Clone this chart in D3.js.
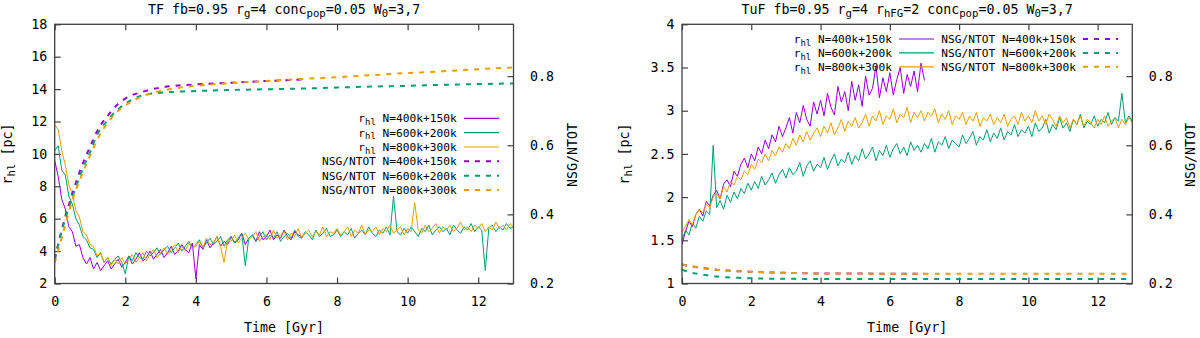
<!DOCTYPE html>
<html><head><meta charset="utf-8">
<script src="https://cdn.jsdelivr.net/npm/d3@7"></script>
<style>
html,body{margin:0;padding:0;background:#fff;}
svg{display:block;font-family:"DejaVu Sans Mono",monospace;}
</style></head>
<body><svg id="c" width="1200" height="338"></svg>
<script>
// ---------- data ----------
const timeGrid = d3.range(0, 131).map(i => i / 10); // 0.1 Gyr sampling grid
const nsgTimes = [0,0.25,0.5,0.75,1,1.25,1.5,1.75,2,2.5,3,3.5,4,5,6,7,8,9,10,11,12,13];

const xTicks = [0,2,4,6,8,10,12];
const yTicksTF = [2,4,6,8,10,12,14,16,18];
const yTicksTuF = [1,1.5,2,2.5,3,3.5,4];
const y2Ticks = [0.2,0.4,0.6,0.8];

const seriesNames = ["N=400k+150k","N=600k+200k","N=800k+300k"];
const seriesColors = ["#9400d3","#009e73","#e69f00"];

// TF panel: half-light radius [pc]
const rhlTF_400 = [9.6,8.6,7.2,6.6,5.5,5.2,4.3,4.4,3.6,3.2,
 3.6,2.9,3.3,2.8,3.1,3.4,2.9,3.2,3.5,3.0,
 3.3,3.7,3.2,3.5,3.9,3.4,3.6,4.0,3.5,3.8,
 4.1,3.6,3.9,4.3,3.8,4.0,4.4,4.1,3.9,4.5,
 2.3,4.4,4.1,4.7,4.2,4.5,4.9,4.3,4.6,4.4,
 4.9,4.5,4.7,5.1,4.4,4.8,5.0,4.6,5.2,4.7,
 4.9,5.3,4.7,5.0,4.8,5.3,4.9,4.7,5.2,5.0,
 4.9];
const rhlTF_600 = [10.2,10.5,9.0,8.7,7.4,6.9,6.0,5.6,4.9,4.7,
 4.2,4.1,3.6,3.9,3.3,3.6,3.2,3.5,3.7,3.3,
 2.6,3.7,3.4,3.9,3.6,3.5,4.0,3.7,3.9,4.2,
 3.8,4.1,4.3,3.9,4.2,4.5,4.0,4.3,4.6,4.2,
 4.4,4.7,4.2,4.5,4.8,4.4,4.6,4.9,4.3,4.7,
 4.9,4.5,4.8,5.1,3.1,4.8,5.0,4.6,4.9,5.2,
 4.7,5.0,4.8,5.2,4.6,4.9,5.1,4.8,5.3,4.9,
 4.8,5.2,5.0,4.7,5.3,4.9,5.1,5.4,4.9,5.0,
 5.3,4.9,5.2,5.0,5.4,4.8,5.1,5.3,5.0,5.5,
 5.1,4.9,5.3,5.1,5.5,5.0,7.4,5.2,5.0,5.4,
 5.1,5.5,5.2,4.9,5.4,5.2,5.6,5.0,5.3,5.5,
 5.2,5.4,5.0,5.6,5.3,5.1,5.5,5.3,5.7,5.2,
 5.5,5.3,2.8,5.4,5.6,5.2,5.5,5.3,5.7,5.4,
 5.5];
const rhlTF_800 = [11.8,11.5,10.2,9.3,8.1,7.5,6.5,6.1,5.2,5.0,
 4.4,4.3,3.7,3.9,3.3,3.6,3.1,3.5,3.2,3.6,
 3.2,3.5,3.8,3.3,3.6,3.9,3.4,3.8,4.1,3.6,
 3.9,4.2,3.8,4.1,4.4,3.9,4.3,4.0,4.5,4.2,
 4.3,4.6,4.2,4.8,4.4,4.5,4.9,4.3,3.3,4.7,
 4.6,5.0,4.5,4.8,5.1,4.7,4.9,5.2,4.6,4.9,
 5.0,4.7,5.3,4.8,5.0,5.2,4.7,5.1,4.9,5.4,
 4.8,5.1,5.3,4.9,5.2,5.0,5.5,4.9,5.2,5.1,
 5.4,5.0,5.2,5.5,4.9,5.3,5.1,5.6,5.0,5.3,
 5.2,5.5,5.0,5.4,5.2,5.6,5.1,5.3,5.5,5.0,
 5.4,5.2,7.0,5.3,5.1,5.6,5.2,5.4,5.7,5.1,
 5.5,5.3,5.6,5.2,5.4,5.8,5.3,5.5,5.2,5.6,
 5.4,5.7,5.2,5.5,5.3,5.8,5.4,5.6,5.3,5.7,
 5.5];
// TF panel: NSG/NTOT
const nsgTF_400 = [0.27,0.375,0.46,0.535,0.595,0.65,0.685,0.715,0.735,0.755,0.767,0.773,0.776,0.781,0.786,0.79];
const nsgTF_600 = [0.27,0.37,0.45,0.52,0.58,0.64,0.672,0.70,0.72,0.745,0.752,0.755,0.757,0.76,0.762,0.764,0.767,0.77,0.772,0.775,0.777,0.779];
const nsgTF_800 = [0.26,0.35,0.44,0.51,0.57,0.625,0.665,0.695,0.715,0.742,0.757,0.766,0.772,0.78,0.786,0.792,0.797,0.803,0.809,0.814,0.82,0.825];

// TuF panel: half-light radius [pc]
const rhlTuF_400 = [1.45,1.6,1.72,1.66,1.8,1.86,1.78,1.95,1.9,2.02,
 2.08,1.98,2.15,2.2,2.12,2.3,2.24,2.38,2.45,2.34,
 2.5,2.42,2.58,2.5,2.66,2.56,2.72,2.64,2.82,2.7,
 2.8,2.92,2.74,2.98,2.86,3.06,2.9,2.82,3.1,2.96,
 3.12,2.94,3.2,3.04,2.95,3.28,3.1,3.22,3.0,3.34,
 3.12,3.3,3.05,3.4,3.18,3.26,3.52,3.15,3.38,3.22,
 3.44,3.18,3.36,3.5,3.2,3.42,3.28,3.46,3.22,3.55,
 3.35];
const rhlTuF_600 = [1.5,1.62,1.56,1.7,1.64,1.78,1.72,1.84,1.8,2.6,
 1.88,1.96,1.86,2.02,1.94,2.06,1.98,2.1,2.04,2.16,
 2.08,2.18,2.1,2.24,2.14,2.2,2.28,2.16,2.26,2.32,
 2.22,2.34,2.26,2.3,2.4,2.24,2.36,2.42,2.3,2.38,
 2.34,2.46,2.32,2.42,2.5,2.36,2.44,2.4,2.52,2.38,
 2.48,2.42,2.56,2.44,2.5,2.58,2.42,2.54,2.48,2.6,
 2.46,2.56,2.62,2.5,2.58,2.48,2.64,2.54,2.6,2.52,
 2.62,2.56,2.68,2.52,2.64,2.6,2.7,2.56,2.66,2.62,
 2.58,2.72,2.62,2.68,2.76,2.6,2.7,2.66,2.78,2.64,
 2.74,2.68,2.8,2.66,2.76,2.72,2.84,2.7,2.78,2.74,
 2.82,2.7,2.86,2.76,2.8,2.9,2.74,2.84,2.78,2.92,
 2.8,2.86,2.76,2.9,2.84,2.96,2.8,2.88,2.84,2.94,
 2.82,2.9,2.86,2.98,2.84,2.92,2.88,3.2,2.86,2.94,
 2.88];
const rhlTuF_800 = [1.6,1.66,1.74,1.68,1.8,1.86,1.82,1.92,1.88,2.0,
 2.04,1.98,2.12,2.06,2.18,2.14,2.24,2.2,2.3,2.26,
 2.38,2.32,2.44,2.4,2.5,2.42,2.54,2.48,2.58,2.52,
 2.62,2.56,2.68,2.6,2.72,2.64,2.76,2.66,2.74,2.8,
 2.7,2.82,2.74,2.86,2.72,2.8,2.9,2.76,2.88,2.82,
 2.92,2.8,2.86,2.96,2.82,2.94,2.88,3.0,2.84,2.94,
 2.9,3.02,2.86,2.96,2.92,3.04,2.86,2.98,2.92,3.0,
 2.88,2.98,2.94,3.02,2.86,2.96,2.9,3.0,2.84,2.94,
 2.9,2.98,2.84,2.94,2.88,2.98,2.82,2.92,2.88,2.96,
 2.84,2.92,2.86,2.96,2.82,2.9,2.94,2.84,2.98,2.88,
 2.94,2.86,3.0,2.88,2.94,2.84,2.96,2.9,2.82,2.94,
 2.86,2.92,2.8,2.9,2.84,2.94,2.82,2.9,2.86,2.8,
 2.9,2.84,2.94,2.82,2.88,2.92,2.8,2.9,2.84,2.92,
 2.86];
// TuF panel: NSG/NTOT
const nsgTuF_400 = [0.255,0.25,0.246,0.243,0.24,0.238,0.236,0.235,0.234,0.232,0.231,0.230,0.229,0.229,0.228,0.228];
const nsgTuF_600 = [0.24,0.232,0.227,0.223,0.22,0.218,0.217,0.216,0.215,0.214,0.214,0.213,0.213,0.213,0.213,0.213,0.213,0.213,0.213,0.213,0.213,0.213];
const nsgTuF_800 = [0.255,0.25,0.246,0.243,0.24,0.238,0.236,0.235,0.234,0.232,0.231,0.230,0.229,0.229,0.228,0.228,0.228,0.228,0.228,0.228,0.228,0.228];

// ---------- drawing ----------
const svg = d3.select("#c");
const FONT = 13.3, LFONT = 11.2, FRAME = "#404040";

function rich(sel, parts, size) {
  const shift = size * 0.25;
  let cur = 0;
  parts.forEach(([txt, sub]) => {
    const want = sub ? shift : 0;
    const t = sel.append("tspan").text(txt).attr("dy", want - cur);
    if (sub) t.attr("font-size", size * 0.8);
    cur = want;
  });
}

function panel(cfg) {
  const x = d3.scaleLinear().domain([0, 13]).range([cfg.x0, cfg.x1]);
  const y = d3.scaleLinear().domain(cfg.yDomain).range([cfg.y1, cfg.y0]);
  const y2 = d3.scaleLinear().domain([0.2, 0.95]).range([cfg.y1, cfg.y0]);
  const g = svg.append("g");

  const clipId = "clip" + cfg.id;
  svg.append("clipPath").attr("id", clipId).append("rect")
    .attr("x", cfg.x0).attr("y", cfg.y0).attr("width", cfg.x1 - cfg.x0).attr("height", cfg.y1 - cfg.y0);

  const styleAxis = a => {
    a.select(".domain").remove();
    a.selectAll(".tick line").attr("stroke", FRAME).attr("stroke-width", 1.2);
    a.selectAll(".tick text").attr("fill", "#000").attr("font-size", FONT).attr("font-family", '"DejaVu Sans Mono",monospace');
  };
  g.append("g").attr("transform", `translate(0,${cfg.y1})`)
    .call(d3.axisBottom(x).tickValues(xTicks).tickFormat(d3.format("d")).tickSize(-6).tickPadding(13)).call(styleAxis);
  g.append("g").attr("transform", `translate(0,${cfg.y0})`)
    .call(d3.axisTop(x).tickValues(xTicks).tickFormat("").tickSize(-6)).call(styleAxis);
  g.append("g").attr("transform", `translate(${cfg.x0},0)`)
    .call(d3.axisLeft(y).tickValues(cfg.yTicks).tickFormat(cfg.yFmt).tickSize(-6).tickPadding(7.5)).call(styleAxis);
  g.append("g").attr("transform", `translate(${cfg.x1},0)`)
    .call(d3.axisRight(y2).tickValues(y2Ticks).tickFormat(d3.format(".1f")).tickSize(-6).tickPadding(16.5)).call(styleAxis);

  const data = g.append("g").attr("clip-path", `url(#${clipId})`);
  const line = d3.line().x(d => x(d[0])).y(d => y(d[1]));
  const line2 = d3.line().x(d => x(d[0])).y(d => y2(d[1])).curve(d3.curveMonotoneX);

  cfg.rhl.forEach((vals, i) => {
    data.append("path").datum(vals.map((v, k) => [timeGrid[k], v]))
      .attr("d", line).attr("fill", "none").attr("stroke", seriesColors[i]).attr("stroke-width", 1);
  });
  cfg.nsg.forEach((vals, i) => {
    data.append("path").datum(vals.map((v, k) => [nsgTimes[k], v]))
      .attr("d", line2).attr("fill", "none").attr("stroke", seriesColors[i])
      .attr("stroke-width", 2).attr("stroke-dasharray", "5,6");
  });

  g.append("rect").attr("x", cfg.x0).attr("y", cfg.y0).attr("width", cfg.x1 - cfg.x0).attr("height", cfg.y1 - cfg.y0)
    .attr("fill", "none").attr("stroke", FRAME).attr("stroke-width", 1.3);

  const title = g.append("text").attr("x", (cfg.x0 + cfg.x1) / 2).attr("y", 14)
    .attr("text-anchor", "middle").attr("font-size", FONT).attr("fill", "#000");
  rich(title, cfg.title, FONT);

  g.append("text").attr("x", (cfg.x0 + cfg.x1) / 2).attr("y", 332).attr("text-anchor", "middle")
    .attr("font-size", FONT).attr("fill", "#000").text("Time [Gyr]");
  const yl = g.append("text").attr("transform", `translate(${cfg.ylabelX},154) rotate(-90)`)
    .attr("text-anchor", "middle").attr("font-size", FONT).attr("fill", "#000").attr("dy", "0.35em");
  rich(yl, [["r", false], ["hl", true], [" [pc]", false]], FONT);
  g.append("text").attr("transform", `translate(${cfg.x1 + 58.5},155) rotate(-90)`)
    .attr("text-anchor", "middle").attr("font-size", FONT).attr("fill", "#000").attr("dy", "0.35em").text("NSG/NTOT");

  cfg.legend.forEach(e => {
    const t = g.append("text").attr("x", e.tx).attr("y", e.y + 3.9).attr("text-anchor", "end")
      .attr("font-size", LFONT).attr("fill", "#000");
    if (e.kind === "rhl") rich(t, [["r", false], ["hl", true], [" " + seriesNames[e.s], false]], LFONT);
    else t.text("NSG/NTOT " + seriesNames[e.s]);
    const ln = g.append("line").attr("x1", e.lx0).attr("x2", e.lx0 + 35).attr("y1", e.y).attr("y2", e.y)
      .attr("stroke", seriesColors[e.s]);
    if (e.kind === "rhl") ln.attr("stroke-width", 1.2);
    else ln.attr("stroke-width", 2).attr("stroke-dasharray", "5,6");
  });
}

const legTF = [];
[0,1,2].forEach(s => legTF.push({kind: "rhl", s, tx: 456.7, lx0: 464, y: 118.3 + s * 14.34}));
[0,1,2].forEach(s => legTF.push({kind: "nsg", s, tx: 456.7, lx0: 464, y: 118.3 + (s + 3) * 14.34}));
const legTuF = [];
[0,1,2].forEach(s => legTuF.push({kind: "rhl", s, tx: 892, lx0: 899, y: 39 + s * 13.9}));
[0,1,2].forEach(s => legTuF.push({kind: "nsg", s, tx: 1076, lx0: 1083, y: 39 + s * 13.9}));

panel({
  id: "TF", x0: 54.7, x1: 513.5, y0: 24.3, y1: 283.5, yDomain: [2, 18], yTicks: yTicksTF,
  yFmt: d3.format("d"), ylabelX: 12,
  title: [["TF fb=0.95 r", false], ["g", true], ["=4 conc", false], ["pop", true], ["=0.05 W", false], ["0", true], ["=3,7", false]],
  rhl: [rhlTF_400, rhlTF_600, rhlTF_800], nsg: [nsgTF_400, nsgTF_600, nsgTF_800], legend: legTF
});
panel({
  id: "TuF", x0: 682, x1: 1132.3, y0: 24.3, y1: 283.5, yDomain: [1, 4], yTicks: yTicksTuF,
  yFmt: d => (Number.isInteger(d) ? d3.format("d")(d) : d3.format(".1f")(d)), ylabelX: 629,
  title: [["TuF fb=0.95 r", false], ["g", true], ["=4 r", false], ["hFG", true], ["=2 conc", false], ["pop", true], ["=0.05 W", false], ["0", true], ["=3,7", false]],
  rhl: [rhlTuF_400, rhlTuF_600, rhlTuF_800], nsg: [nsgTuF_400, nsgTuF_600, nsgTuF_800], legend: legTuF
});
</script></body></html>
